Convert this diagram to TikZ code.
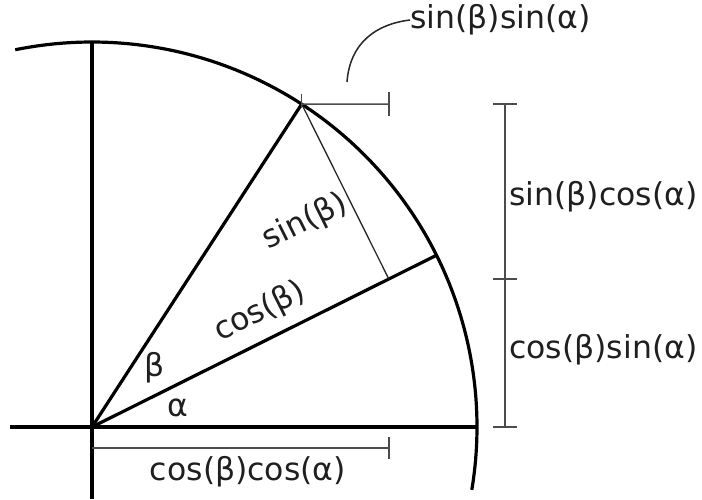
\documentclass[tikz,border=0pt]{standalone}
\usepackage{fontspec}
\setmainfont{DejaVu Sans}
\begin{document}
\begin{tikzpicture}[x=1pt,y=1pt,
  thick line/.style={line width=3.2pt,black},
  bracket/.style={line width=1.6pt,black!70},
  perp/.style={line width=1.3pt,black!85},
  lbl/.style={inner sep=0pt,font=\fontsize{31.5}{36}\selectfont,text=black!88}]
\useasboundingbox (-92,-72) rectangle (610,427);
\def\R{385}
\coordinate (O) at (0,0);
\coordinate (A) at (26.5:\R);
\coordinate (B) at (57:\R);
\coordinate (F) at (26.5:331.7);
\coordinate (XL) at (-82,0);
\coordinate (XR) at (\R,0);
\coordinate (YT) at (0,\R);
\coordinate (YB) at (0,-72);
% axes
\draw[thick line] (XL) -- (XR);
\draw[thick line] (YB) -- (YT);
% arc
\draw[thick line] (-9.4:\R) arc[start angle=-9.4, end angle=101.5, radius=\R];
% rays
\draw[thick line] (O) -- (A);
\draw[thick line] (O) -- (B);
% perpendicular
\draw[perp] (B) -- (F);
% bottom bracket
\coordinate (BB1) at (0,-21);
\coordinate (BB2) at (296.9,-21);
\draw[bracket] (BB1) -- (BB2);
\draw[bracket] ([yshift=11]BB2) -- ([yshift=-11]BB2);
% top bracket
\coordinate (TB2) at (296.9,322.9);
\draw[bracket] (B) -- (TB2);
\draw[bracket] ([yshift=12]TB2) -- ([yshift=-12]TB2);
\draw[bracket] ([yshift=10]B) -- ([yshift=-4]B);
% vertical bracket
\coordinate (V0) at (413,0);
\coordinate (V1) at (413,148);
\coordinate (V2) at (413,322.9);
\draw[bracket] (V0) -- (V2);
\foreach \p in {V0,V1,V2} \draw[bracket] ([xshift=-12]\p) -- ([xshift=12]\p);
% labels
\node[lbl,anchor=west] (ss) at (318,407) {sin(β)sin(α)};
\coordinate (cs) at (255,345);
\draw[line width=1.5pt,black!85] (cs) .. controls (258,385) and (285,403) .. (ss.west);
\node[lbl,anchor=west] (sc) at (417,230) {sin(β)cos(α)};
\node[lbl,anchor=west] (cbs) at (417,77) {cos(β)sin(α)};
\node[lbl] (cc) at (156,-45) {cos(β)cos(α)};
\node[lbl,rotate=26.5] (sb) at (213,205) {sin(β)};
\node[lbl,rotate=26.5] (cb) at (168,115) {cos(β)};
\node[lbl] (be) at (63,59) {β};
\node[lbl] (al) at (86,19) {α};
\end{tikzpicture}
\end{document}
